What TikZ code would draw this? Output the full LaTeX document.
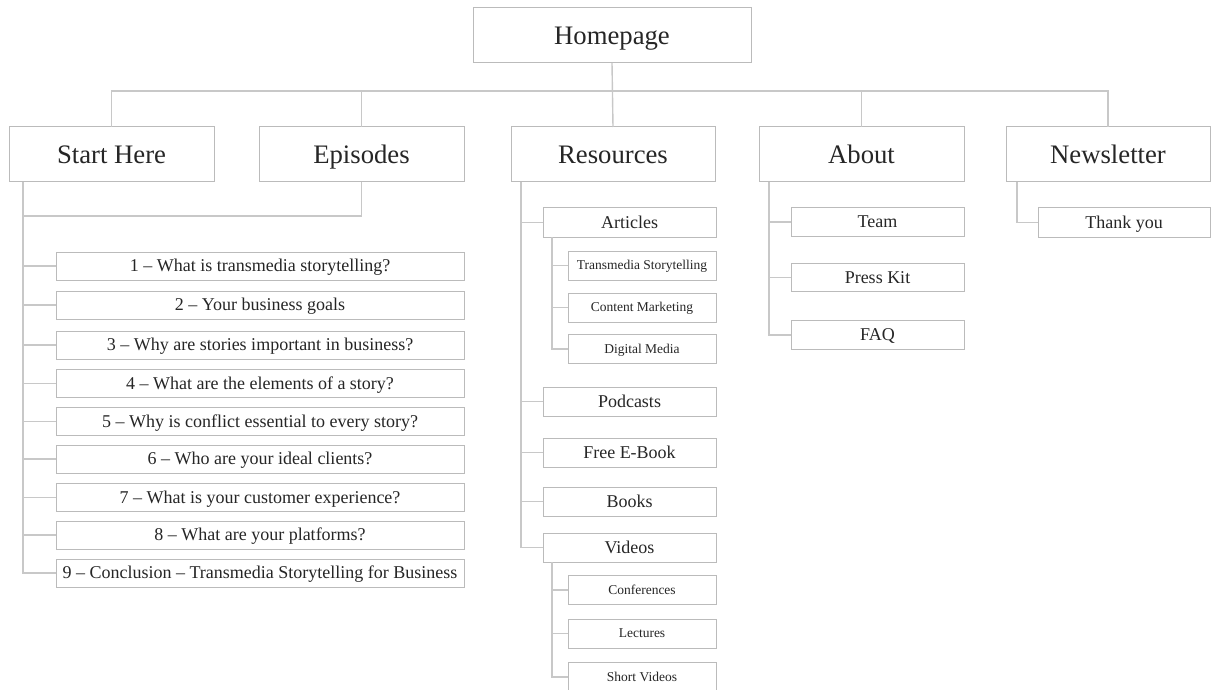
\documentclass[tikz,border=0pt]{standalone}
\usepackage{fontspec}
\setmainfont{Liberation Serif}
\definecolor{boxc}{HTML}{BBBBBB}
\definecolor{linec}{HTML}{C8C8C8}
\definecolor{txtc}{HTML}{262626}
\begin{document}
\begin{tikzpicture}[x=1pt,y=-1pt,
  every node/.style={inner sep=0pt,outer sep=0pt,text=txtc},
  boxbase/.style={draw=boxc,line width=1pt,fill=white,text depth=0pt,align=center},
  topbox/.style={boxbase,minimum width=278pt,minimum height=55pt,text height=17.6pt,font=\fontsize{26.7}{30}\selectfont},
  lonebox/.style={boxbase,minimum width=205pt,minimum height=55pt,text height=17.6pt,font=\fontsize{26.7}{30}\selectfont},
  epbox/.style={boxbase,minimum width=408pt,minimum height=28pt,text height=11.9pt,font=\fontsize{18}{21}\selectfont},
  ltwobox/.style={boxbase,minimum width=173pt,minimum height=29pt,text height=11.9pt,font=\fontsize{18}{21}\selectfont},
  lthreebox/.style={boxbase,minimum width=148pt,minimum height=29pt,text height=8.9pt,font=\fontsize{13.5}{16}\selectfont},
  conn/.style={draw=linec,line width=1.4pt}]
\useasboundingbox (0,0) rectangle (1211,690);

% top levels
\node[topbox] (home) at (612,35.5) {Homepage};
\node[lonebox] (start) at (111.5,154.5) {Start Here};
\node[lonebox] (eps) at (361.5,154.5) {Episodes};
\node[lonebox,minimum width=204pt] (res) at (613,154.5) {Resources};
\node[lonebox] (about) at (861.5,154.5) {About};
\node[lonebox,minimum width=204pt] (news) at (1108,154.5) {Newsletter};

% episodes
\node[epbox] (e1) at (260,266) {1 – What is transmedia storytelling?};
\node[epbox] (e2) at (260,305) {2 – Your business goals};
\node[epbox] (e3) at (260,345) {3 – Why are stories important in business?};
\node[epbox] (e4) at (260,383.5) {4 – What are the elements of a story?};
\node[epbox] (e5) at (260,421.5) {5 – Why is conflict essential to every story?};
\node[epbox] (e6) at (260,459) {6 – Who are your ideal clients?};
\node[epbox] (e7) at (260,497.5) {7 – What is your customer experience?};
\node[epbox] (e8) at (260,535) {8 – What are your platforms?};
\node[epbox] (e9) at (260,573) {9 – Conclusion – Transmedia Storytelling for Business};

% resources
\node[ltwobox] (art) at (629.5,222.5) {Articles};
\node[lthreebox] (ts) at (642,265.5) {Transmedia Storytelling};
\node[lthreebox] (cm) at (642,307.5) {Content Marketing};
\node[lthreebox] (dm) at (642,349) {Digital Media};
\node[ltwobox] (pod) at (629.5,401.5) {Podcasts};
\node[ltwobox] (ebook) at (629.5,452.5) {Free E-Book};
\node[ltwobox] (books) at (629.5,501.5) {Books};
\node[ltwobox] (vid) at (629.5,547.5) {Videos};
\node[lthreebox] (conf) at (642,590) {Conferences};
\node[lthreebox] (lect) at (642,633.5) {Lectures};
\node[lthreebox] (sv) at (642,677) {Short Videos};

% about
\node[ltwobox,minimum height=28.5pt] (team) at (877.5,222) {Team};
\node[ltwobox,minimum height=28.5pt] (press) at (877.5,277.5) {Press Kit};
\node[ltwobox,minimum height=28.5pt] (faq) at (877.5,335) {FAQ};

% newsletter
\node[ltwobox,minimum width=172pt] (thank) at (1124,222.5) {Thank you};

% connectors: top bus
\coordinate (bus) at (0,91);
\draw[conn] (home.south) -- (res.north);
\draw[conn] (start.north) -- (start.north |- bus) -- (news.north |- bus) -- (news.north);
\draw[conn] (eps.north) -- (eps.north |- bus);
\draw[conn] (about.north) -- (about.north |- bus);

% start/episodes
\coordinate (sx) at ([xshift=14pt]start.south west);
\coordinate (ejoin) at (0,216);
\draw[conn] (eps.south) -- (eps.south |- ejoin) -- (sx |- ejoin);
\draw[conn] (sx) -- (sx |- e9.west) -- (e9.west);
\foreach \i in {1,...,8} { \draw[conn] (sx |- e\i.west) -- (e\i.west); }

% resources
\coordinate (rx) at ([xshift=10pt]res.south west);
\draw[conn] (rx) -- (rx |- vid.west) -- (vid.west);
\foreach \n in {art,pod,ebook,books} { \draw[conn] (rx |- \n.west) -- (\n.west); }
\coordinate (ax) at ([xshift=9pt]art.south west);
\draw[conn] (ax) -- (ax |- dm.west) -- (dm.west);
\foreach \n in {ts,cm} { \draw[conn] (ax |- \n.west) -- (\n.west); }
\coordinate (vx) at ([xshift=9pt]vid.south west);
\draw[conn] (vx) -- (vx |- sv.west) -- (sv.west);
\foreach \n in {conf,lect} { \draw[conn] (vx |- \n.west) -- (\n.west); }

% about
\coordinate (bx) at ([xshift=10pt]about.south west);
\draw[conn] (bx) -- (bx |- faq.west) -- (faq.west);
\foreach \n in {team,press} { \draw[conn] (bx |- \n.west) -- (\n.west); }

% newsletter
\coordinate (nx) at ([xshift=11pt]news.south west);
\draw[conn] (nx) -- (nx |- thank.west) -- (thank.west);
\end{tikzpicture}
\end{document}
